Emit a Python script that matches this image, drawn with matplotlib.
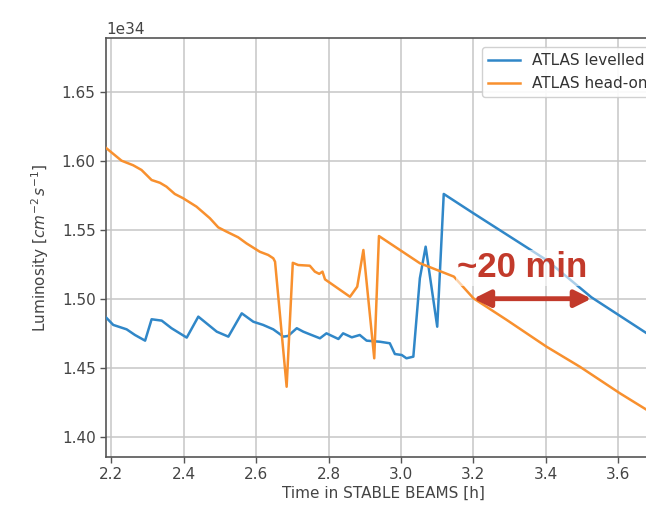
import matplotlib
matplotlib.use("Agg")
import matplotlib.pyplot as plt
import numpy as np

# ---- data (luminosity in units of 1e34 cm^-2 s^-1) ----
orange_t = [2.183, 2.228, 2.260, 2.283, 2.311, 2.334, 2.352, 2.375, 2.398, 2.435,
            2.472, 2.495, 2.518, 2.550, 2.573, 2.610, 2.633, 2.647, 2.652, 2.684,
            2.701, 2.716, 2.748, 2.762, 2.774, 2.783, 2.790, 2.859, 2.879, 2.896,
            2.926, 2.939, 3.052, 3.146, 3.200, 3.292, 3.402, 3.494, 3.605, 3.676]
orange_y = [1.6097, 1.6000, 1.5967, 1.5933, 1.5860, 1.5840, 1.5812, 1.5759, 1.5728, 1.5667,
            1.5583, 1.5517, 1.5486, 1.5445, 1.5401, 1.5340, 1.5317, 1.5293, 1.5268, 1.4362,
            1.5260, 1.5244, 1.5239, 1.5196, 1.5180, 1.5196, 1.5140, 1.5014, 1.5087, 1.5353,
            1.4568, 1.5454, 1.5257, 1.5160, 1.5003, 1.4846, 1.4652, 1.4507, 1.4314, 1.4199]

blue_t = [2.183, 2.205, 2.242, 2.265, 2.293, 2.311, 2.339, 2.366, 2.408, 2.440,
          2.491, 2.523, 2.560, 2.592, 2.619, 2.647, 2.675, 2.688, 2.712, 2.730,
          2.748, 2.776, 2.794, 2.827, 2.840, 2.864, 2.886, 2.905, 2.942, 2.969,
          2.983, 3.002, 3.015, 3.034, 3.052, 3.068, 3.100, 3.118, 3.200, 3.402,
          3.526, 3.676]
blue_y = [1.4870, 1.4810, 1.4778, 1.4737, 1.4696, 1.4851, 1.4841, 1.4786, 1.4718, 1.4870,
          1.4761, 1.4725, 1.4894, 1.4833, 1.4810, 1.4778, 1.4725, 1.4730, 1.4786, 1.4761,
          1.4742, 1.4713, 1.4749, 1.4708, 1.4749, 1.4720, 1.4737, 1.4696, 1.4688, 1.4677,
          1.4599, 1.4592, 1.4568, 1.4580, 1.5148, 1.5377, 1.4797, 1.5759, 1.5619, 1.5280,
          1.5010, 1.4754]

series_labels = ["ATLAS levelled", "ATLAS head-on"]
x_ticks = [2.2, 2.4, 2.6, 2.8, 3.0, 3.2, 3.4, 3.6]
y_ticks = [1.40, 1.45, 1.50, 1.55, 1.60, 1.65]
scale = 1e34

arrow_start = 3.200
arrow_end = 3.526
arrow_level = 1.500
annot_text = "~20 min"

# ---- figure ----
fig = plt.figure(figsize=(6.46, 5.07), dpi=100)
ax = fig.add_axes([106 / 646, 1 - 456.7 / 507, 0.86, (456.7 - 38.3) / 507])

ax.plot(blue_t, np.array(blue_y) * scale, color="#3087c8", lw=1.8, label=series_labels[0], zorder=3)
ax.plot(orange_t, np.array(orange_y) * scale, color="#f8902e", lw=1.8, label=series_labels[1], zorder=3)

ax.set_xlim(2.185, 2.185 + 0.86 * 646 / 362)
ax.set_ylim(1.3855 * scale, 1.6887 * scale)
ax.set_xticks(x_ticks)
ax.set_yticks(np.array(y_ticks) * scale)
ax.set_xticklabels([f"{v:.1f}" for v in x_ticks])

ax.grid(True, color="#c6c6c6", lw=1.1)
ax.set_axisbelow(True)
for s in ax.spines.values():
    s.set_color("#555555")
    s.set_linewidth(1.2)
ax.tick_params(colors="#555555", labelcolor="#444444", labelsize=11, length=4, width=1)
ax.yaxis.get_offset_text().set_fontsize(11)
ax.yaxis.get_offset_text().set_color("#444444")

ax.set_xlabel("Time in STABLE BEAMS [h]", fontsize=11, color="#444444", labelpad=3)
ax.set_ylabel(r"Luminosity [$cm^{-2}\,s^{-1}$]", fontsize=11, color="#444444", labelpad=8)

leg = ax.legend(loc="upper left", bbox_to_anchor=(481.7 / 646, 1 - 47.3 / 507),
                bbox_transform=fig.transFigure, borderaxespad=0, fontsize=11,
                handlelength=2.1, framealpha=0.9, edgecolor="#cccccc")
for t in leg.get_texts():
    t.set_color("#333333")

red = "#c23a2b"
ax.annotate("", xy=(arrow_start, arrow_level * scale), xytext=(arrow_end, arrow_level * scale),
            arrowprops=dict(arrowstyle="<|-|>,head_length=1.0,head_width=0.5", color=red,
                            lw=3.5, shrinkA=0, shrinkB=0), zorder=5)
ax.text(3.335, 1.5155 * scale, annot_text, color=red,
        fontsize=25, fontweight="bold", family="Liberation Sans", ha="center", va="baseline",
        bbox=dict(facecolor="white", edgecolor="none", alpha=0.6, pad=1), zorder=6)

fig.savefig("out.png", dpi=100)
